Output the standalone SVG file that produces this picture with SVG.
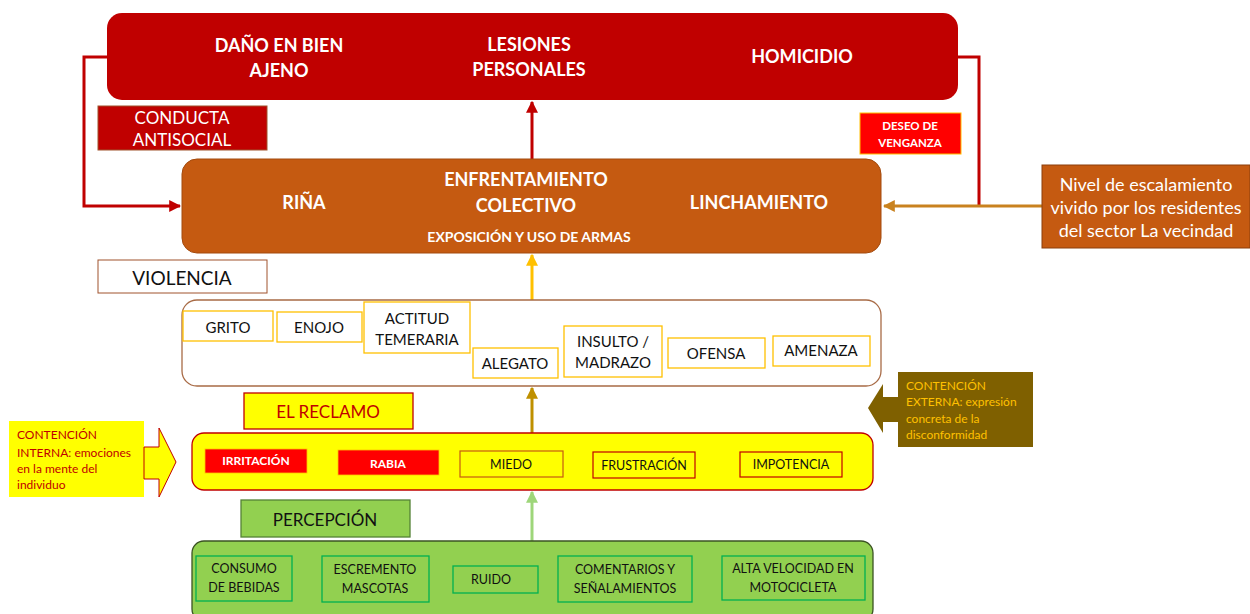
<svg xmlns="http://www.w3.org/2000/svg" width="1250" height="614" viewBox="0 0 1250 614">
<defs>
<style>
text{font-family:Lato,"Liberation Sans",sans-serif;text-anchor:middle;dominant-baseline:central}
.wb{fill:#fff;font-weight:bold;font-size:18px}
.w{fill:#fff;font-size:17px}
.k{fill:#111;font-size:15px}
.ks{fill:#111;font-size:12.5px}
.ybox{fill:#fff;stroke:#FFC000;stroke-width:1.3}
.gbox{fill:#92D050;stroke:#00B050;stroke-width:1.3}
.l{text-anchor:start}
</style>
<marker id="aRed" viewBox="0 0 10 10" refX="9" refY="5" markerWidth="4" markerHeight="4" orient="auto"><path d="M0,0L10,5L0,10z" fill="#C00000"/></marker>
<marker id="aGold" viewBox="0 0 10 10" refX="9" refY="5" markerWidth="4" markerHeight="4" orient="auto"><path d="M0,0L10,5L0,10z" fill="#C9821F"/></marker>
<marker id="aYel" viewBox="0 0 10 10" refX="9" refY="5" markerWidth="4" markerHeight="4" orient="auto"><path d="M0,0L10,5L0,10z" fill="#FFC000"/></marker>
<marker id="aDk" viewBox="0 0 10 10" refX="9" refY="5" markerWidth="4" markerHeight="4" orient="auto"><path d="M0,0L10,5L0,10z" fill="#BF9000"/></marker>
<marker id="aGr" viewBox="0 0 10 10" refX="9" refY="5" markerWidth="4" markerHeight="4" orient="auto"><path d="M0,0L10,5L0,10z" fill="#9ED67A"/></marker>
</defs>

<g id="connectors" fill="none" stroke-width="3">
<polyline points="107,57 84,57 84,206 180,206" stroke="#C00000" marker-end="url(#aRed)"/>
<polyline points="958,57 979,57 979,206" stroke="#C00000"/>
<line x1="1042" y1="206" x2="884" y2="206" stroke="#C9821F" marker-end="url(#aGold)"/>
<line x1="532" y1="159" x2="532" y2="102" stroke="#C00000" marker-end="url(#aRed)"/>
<line x1="532" y1="300" x2="532" y2="255" stroke="#FFC000" marker-end="url(#aYel)"/>
<line x1="532" y1="433" x2="532" y2="388" stroke="#BF9000" marker-end="url(#aDk)"/>
<line x1="532" y1="541" x2="532" y2="492" stroke="#9ED67A" marker-end="url(#aGr)"/>
</g>

<g id="resultados">
<rect x="107" y="13" width="851" height="87" rx="15" fill="#C00000"/>
<text class="wb" x="279" y="45">DAÑO EN BIEN</text>
<text class="wb" x="279" y="70">AJENO</text>
<text class="wb" x="529" y="44">LESIONES</text>
<text class="wb" x="529" y="69">PERSONALES</text>
<text class="wb" x="802" y="56">HOMICIDIO</text>
</g>

<g id="conducta-antisocial">
<rect x="98" y="106" width="169" height="44" fill="#C00000" stroke="#A0522D"/>
<text class="w" x="182" y="117">CONDUCTA</text>
<text class="w" x="182" y="139">ANTISOCIAL</text>
</g>

<g id="deseo-venganza">
<rect x="860" y="113" width="101" height="41" fill="#FF0000" stroke="#FFC000"/>
<text x="910" y="125" fill="#fff" font-weight="bold" font-size="11.5">DESEO DE</text>
<text x="910" y="142" fill="#fff" font-weight="bold" font-size="11.5">VENGANZA</text>
</g>

<g id="enfrentamiento">
<rect x="182" y="159" width="699" height="94" rx="15" fill="#C55A11" stroke="#A34A0E"/>
<text class="wb" x="304" y="202">RIÑA</text>
<text class="wb" x="526" y="179">ENFRENTAMIENTO</text>
<text class="wb" x="526" y="205">COLECTIVO</text>
<text x="529" y="236" fill="#fff" font-weight="bold" font-size="14">EXPOSICIÓN Y USO DE ARMAS</text>
<text class="wb" x="759" y="202">LINCHAMIENTO</text>
</g>

<g id="nivel-escalamiento">
<rect x="1042" y="165" width="208" height="83" fill="#C55A11" stroke="#8B3E0C"/>
<text x="1146" y="184" fill="#fff" font-size="18">Nivel de escalamiento</text>
<text x="1146" y="207" fill="#fff" font-size="18">vivido por los residentes</text>
<text x="1146" y="230" fill="#fff" font-size="18">del sector La vecindad</text>
</g>

<g id="violencia-label">
<rect x="98" y="260" width="169" height="33" fill="#fff" stroke="#A0522D"/>
<text x="182" y="277" fill="#111" font-size="19">VIOLENCIA</text>
</g>

<g id="violencia">
<rect x="182" y="300" width="699" height="86" rx="15" fill="#fff" stroke="#A86B46" stroke-width="1.3"/>
<rect class="ybox" x="183" y="311" width="90" height="30"/>
<text class="k" x="228" y="327">GRITO</text>
<rect class="ybox" x="277" y="312" width="85" height="30"/>
<text class="k" x="319" y="327">ENOJO</text>
<rect class="ybox" x="364" y="302" width="106" height="51"/>
<text class="k" x="417" y="318">ACTITUD</text>
<text class="k" x="417" y="339">TEMERARIA</text>
<rect class="ybox" x="473" y="348" width="85" height="30"/>
<text class="k" x="515" y="363">ALEGATO</text>
<rect class="ybox" x="564" y="326" width="98" height="51"/>
<text class="k" x="613" y="341">INSULTO /</text>
<text class="k" x="613" y="362">MADRAZO</text>
<rect class="ybox" x="668" y="338" width="97" height="30"/>
<text class="k" x="716" y="353">OFENSA</text>
<rect class="ybox" x="773" y="336" width="97" height="30"/>
<text class="k" x="821" y="350">AMENAZA</text>
</g>

<g id="reclamo-label">
<rect x="244" y="393" width="169" height="36" fill="#FFFF00" stroke="#C00000" stroke-width="1.3"/>
<text x="328" y="411" fill="#C00000" font-size="17">EL RECLAMO</text>
</g>

<g id="contencion-externa">
<path d="M898,397 L883,397 L883,384 L868,408 L883,433 L883,422 L898,422 Z" fill="#7F6000"/>
<rect x="898" y="372" width="135" height="75" fill="#7F6000"/>
<text class="l" x="906" y="385" fill="#FFC000" font-size="12">CONTENCIÓN</text>
<text class="l" x="906" y="401" fill="#FFC000" font-size="12">EXTERNA: expresión</text>
<text class="l" x="906" y="418" fill="#FFC000" font-size="12">concreta de la</text>
<text class="l" x="906" y="434" fill="#FFC000" font-size="12">disconformidad</text>
</g>

<g id="contencion-interna">
<rect x="9" y="421" width="135" height="76" fill="#FFFF00"/>
<text class="l" x="17" y="434" fill="#C00000" font-size="12">CONTENCIÓN</text>
<text class="l" x="17" y="452" fill="#C00000" font-size="12">INTERNA: emociones</text>
<text class="l" x="17" y="468" fill="#C00000" font-size="12">en la mente del</text>
<text class="l" x="17" y="484" fill="#C00000" font-size="12">individuo</text>
<path d="M144,447 L159,447 L159,428 L176,462 L159,497 L159,479 L144,479 Z" fill="#FFFF00" stroke="#C00000" stroke-width="1"/>
</g>

<g id="reclamo">
<rect x="192" y="433" width="681" height="57" rx="12" fill="#FFFF00" stroke="#C00000" stroke-width="1.3"/>
<rect x="205" y="449" width="102" height="24" fill="#FF0000" stroke="#FFC000" stroke-width="0.8"/>
<text x="256" y="460" fill="#fff" font-weight="bold" font-size="12">IRRITACIÓN</text>
<rect x="338" y="450" width="101" height="25" fill="#FF0000" stroke="#FFC000" stroke-width="0.8"/>
<text x="388" y="463" fill="#fff" font-weight="bold" font-size="12">RABIA</text>
<rect x="460" y="451" width="103" height="26" fill="#FFFF00" stroke="#C55A11" stroke-width="1.2"/>
<text class="ks" x="511" y="464">MIEDO</text>
<rect x="593" y="452" width="102" height="26" fill="#FFFF00" stroke="#C00000" stroke-width="1.2"/>
<text class="ks" x="644" y="465">FRUSTRACIÓN</text>
<rect x="740" y="452" width="102" height="25" fill="#FFFF00" stroke="#C00000" stroke-width="1.2"/>
<text class="ks" x="791" y="464">IMPOTENCIA</text>
</g>

<g id="percepcion-label">
<rect x="241" y="500" width="169" height="37" fill="#92D050" stroke="#548235" stroke-width="1.3"/>
<text x="325" y="519" fill="#111" font-size="17">PERCEPCIÓN</text>
</g>

<g id="percepcion">
<rect x="192" y="541" width="681" height="80" rx="12" fill="#92D050" stroke="#3B5323" stroke-width="1.3"/>
<rect class="gbox" x="196" y="556" width="96" height="45"/>
<text class="ks" x="244" y="568">CONSUMO</text>
<text class="ks" x="244" y="587">DE BEBIDAS</text>
<rect class="gbox" x="322" y="556" width="107" height="46"/>
<text class="ks" x="375" y="569">ESCREMENTO</text>
<text class="ks" x="375" y="588">MASCOTAS</text>
<rect class="gbox" x="453" y="566" width="85" height="27"/>
<text class="ks" x="491" y="579">RUIDO</text>
<rect class="gbox" x="558" y="556" width="134" height="46"/>
<text class="ks" x="625" y="569">COMENTARIOS Y</text>
<text class="ks" x="625" y="588">SEÑALAMIENTOS</text>
<rect class="gbox" x="722" y="556" width="143" height="44"/>
<text class="ks" x="793" y="568">ALTA VELOCIDAD EN</text>
<text class="ks" x="793" y="587">MOTOCICLETA</text>
</g>
</svg>
